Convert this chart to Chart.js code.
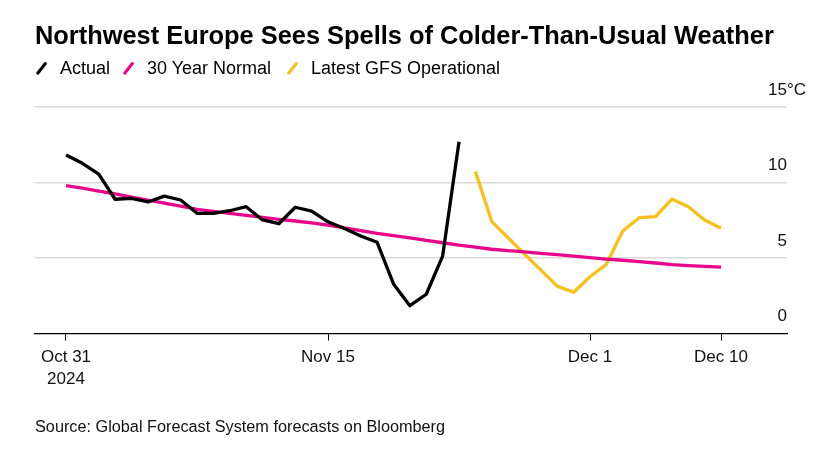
<!DOCTYPE html>
<html>
<head>
<meta charset="utf-8">
<script src="https://cdn.jsdelivr.net/npm/chart.js@4"></script>
<style>
  html, body { margin: 0; padding: 0; background: #fff; }
  body { width: 824px; height: 460px; position: relative; overflow: hidden; font-family: "Liberation Sans", Arial, sans-serif; color: #000; }
  #wrap { position: absolute; left: 0; top: 0; width: 824px; height: 460px; }
  #title { position: absolute; left: 35px; top: 21px; font-weight: bold; font-size: 24px; white-space: nowrap; color: #000; }
  #legend { position: absolute; left: 36px; top: 57px; font-size: 18px; white-space: nowrap; height: 22px; }
  .item { position: absolute; top: 0; height: 22px; line-height: 22px; }
  .sw { position: absolute; top: 4px; width: 3.4px; height: 15px; transform: rotate(38deg); border-radius: 1px; }
  #source { position: absolute; left: 35px; top: 417px; font-size: 16px; white-space: nowrap; color: #111; }
</style>
</head>
<body>
<div id="wrap"><canvas id="c" width="824" height="460"></canvas></div>
<div id="title">Northwest Europe Sees Spells of Colder-Than-Usual Weather</div>
<div id="legend"></div>
<div id="source">Source: Global Forecast System forecasts on Bloomberg</div>
<script>
// ---- data ----
const seriesNames = ["Actual", "30 Year Normal", "Latest GFS Operational"];
const seriesColors = ["#000000", "#e8068a", "#f8c11a"];
// day index 0 = Oct 31, 2024
const actual = [11.82, 11.27, 10.56, 8.89, 8.95, 8.71, 9.10, 8.84, 7.96, 7.96, 8.13, 8.40, 7.52, 7.27, 8.36, 8.11, 7.40, 6.96, 6.46, 6.04, 3.28, 1.84, 2.60, 5.13, 12.70];
const normal = [9.80, 9.62, 9.43, 9.24, 9.03, 8.83, 8.63, 8.43, 8.22, 8.09, 7.96, 7.82, 7.69, 7.56, 7.45, 7.32, 7.18, 7.00, 6.82, 6.63, 6.48, 6.33, 6.17, 6.01, 5.86, 5.72, 5.58, 5.49, 5.40, 5.31, 5.22, 5.12, 5.02, 4.93, 4.85, 4.76, 4.67, 4.56, 4.50, 4.45, 4.40];
const gfsStart = 25;
const gfs = [10.72, 7.41, 6.34, 5.26, 4.20, 3.14, 2.73, 3.76, 4.58, 6.79, 7.67, 7.74, 8.90, 8.40, 7.52, 6.97];
const xTickPositions = [0, 16, 32, 40];
const xTickLabels = [["Oct 31", "2024"], "Nov 15", "Dec 1", "Dec 10"];
const yTickValues = [0, 5, 10, 15];
const yUnit = "°C";

// ---- legend ----
const legendLeft = [0, 87, 251];
const legend = document.getElementById('legend');
seriesNames.forEach((n, i) => {
  const it = document.createElement('div');
  it.className = 'item';
  it.style.left = legendLeft[i] + 'px';
  const sw = document.createElement('span');
  sw.className = 'sw';
  sw.style.left = '4px';
  sw.style.background = seriesColors[i];
  it.appendChild(sw);
  const tx = document.createElement('span');
  tx.textContent = n;
  tx.style.position = 'absolute';
  tx.style.left = '24px';
  it.appendChild(tx);
  legend.appendChild(it);
});

// fit title / source widths
function fit(id, target, weight) {
  const el = document.getElementById(id);
  const cv = document.createElement('canvas').getContext('2d');
  cv.font = weight + ' 100px "Liberation Sans", Arial, sans-serif';
  const w = cv.measureText(el.textContent).width;
  el.style.fontSize = (100 * target / w).toFixed(2) + 'px';
}
fit('title', 739, 'bold');
fit('source', 410, 'normal');

const toPts = (arr, start) => arr.map((v, i) => ({ x: start + i, y: v }));

const yLabelPlugin = {
  id: 'yLabels',
  afterDraw(chart) {
    const { ctx } = chart;
    const y = chart.scales.y;
    const right = chart.chartArea.right;
    ctx.save();
    ctx.font = '17px "Liberation Sans", Arial, sans-serif';
    ctx.fillStyle = '#111';
    ctx.textBaseline = 'middle';
    yTickValues.forEach(v => {
      const py = y.getPixelForValue(v) - 17;
      ctx.textAlign = 'right';
      ctx.fillText(String(v), right, py);
      if (v === yTickValues[yTickValues.length - 1]) {
        ctx.textAlign = 'left';
        ctx.fillText(yUnit, right, py);
      }
    });
    ctx.restore();
  }
};

new Chart(document.getElementById('c'), {
  type: 'line',
  data: {
    datasets: [
      { label: seriesNames[0], data: toPts(actual, 0), borderColor: seriesColors[0], order: 0 },
      { label: seriesNames[1], data: toPts(normal, 0), borderColor: seriesColors[1], order: 1 },
      { label: seriesNames[2], data: toPts(gfs, gfsStart), borderColor: seriesColors[2], order: 2 }
    ]
  },
  options: {
    responsive: false,
    animation: false,
    layout: { padding: { left: 35, right: 37, top: 107, bottom: 0 } },
    elements: {
      line: { borderWidth: 3.3, tension: 0, borderJoinStyle: 'round', borderCapStyle: 'butt' },
      point: { radius: 0, hoverRadius: 0 }
    },
    plugins: { legend: { display: false }, tooltip: { enabled: false }, title: { display: false } },
    scales: {
      x: {
        type: 'linear',
        min: -1.893,
        max: 44.03,
        afterBuildTicks: s => { s.ticks = xTickPositions.map(v => ({ value: v })); },
        afterFit: s => { s.height = 126.5; },
        ticks: {
          autoSkip: false,
          maxRotation: 0,
          padding: 6,
          color: '#111',
          font: { family: '"Liberation Sans", Arial, sans-serif', size: 17, lineHeight: 1.3 },
          callback: (v) => { const k = xTickPositions.indexOf(v); return k >= 0 ? xTickLabels[k] : ''; }
        },
        grid: { drawOnChartArea: false, drawTicks: true, tickLength: 7, color: '#000', lineWidth: 1 },
        border: { display: true, color: '#000', width: 1.2 }
      },
      y: {
        min: 0,
        max: 15,
        position: 'right',
        afterBuildTicks: s => { s.ticks = yTickValues.map(v => ({ value: v })); },
        afterFit: s => { s.width = 0; },
        ticks: { display: false },
        grid: {
          drawTicks: false,
          color: c => (c.tick && c.tick.value === 0) ? 'rgba(0,0,0,0)' : '#dadada',
          lineWidth: 1.6
        },
        border: { display: false }
      }
    }
  },
  plugins: [yLabelPlugin]
});
</script>
</body>
</html>
